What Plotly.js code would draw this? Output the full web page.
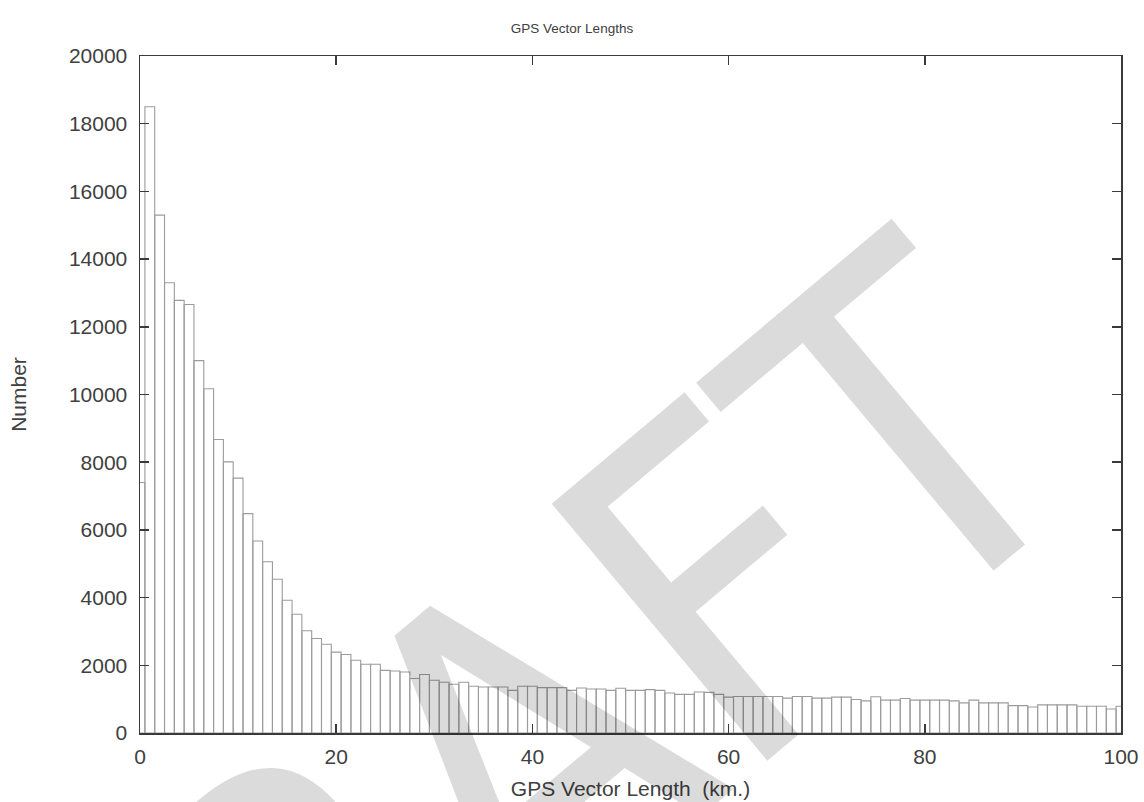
<!DOCTYPE html>
<html>
<head>
<meta charset="utf-8">
<script src="https://cdn.plot.ly/plotly-3.0.1.min.js"></script>
<style>
  html, body { margin: 0; padding: 0; background: #fff; }
  #chart { width: 1144px; height: 802px; }
</style>
</head>
<body>
<div id="chart"></div>
<script>
// Histogram bin centres (km) and counts
const binCenters = Array.from({length: 101}, (_, i) => i);
const counts = [
  7400, 18500, 15300, 13300, 12780, 12660, 11000, 10170, 8670, 8010,
  7530, 6480, 5670, 5060, 4540, 3920, 3510, 3020, 2790, 2620,
  2390, 2320, 2150, 2030, 2030, 1850, 1830, 1800, 1610, 1730,
  1560, 1500, 1440, 1500, 1380, 1360, 1360, 1360, 1260, 1380,
  1380, 1340, 1340, 1340, 1260, 1330, 1300, 1300, 1260, 1320,
  1260, 1260, 1280, 1260, 1180, 1140, 1140, 1210, 1200, 1140,
  1060, 1080, 1080, 1080, 1080, 1080, 1030, 1080, 1080, 1030,
  1030, 1060, 1060, 990, 950, 1070, 970, 970, 1020, 970,
  970, 970, 970, 950, 890, 970, 890, 890, 890, 810,
  810, 770, 830, 830, 830, 830, 790, 790, 790, 710,
  790
];
const xTicks = [0, 20, 40, 60, 80, 100];
const yTicks = [0, 2000, 4000, 6000, 8000, 10000, 12000, 14000, 16000, 18000, 20000];

const chartTitle = 'GPS Vector Lengths';
const xTitle = 'GPS Vector Length  (km.)';
const yTitle = 'Number';
const watermark = 'DRAFT';

const textColor = '#404040';
const axisColor = '#3a3a3a';

const trace = {
  type: 'bar',
  x: binCenters,
  y: counts,
  width: 1,
  marker: {
    color: 'rgba(255,255,255,0)',
    line: { color: '#9c9c9c', width: 1.1 }
  },
  hoverinfo: 'x+y'
};

const axisCommon = {
  showgrid: false,
  zeroline: false,
  showline: true,
  linecolor: axisColor,
  linewidth: 1.5,
  mirror: 'ticks',
  ticks: 'inside',
  ticklen: 9,
  tickwidth: 1.5,
  tickcolor: axisColor,
  tickfont: { family: 'Liberation Sans, Arial, sans-serif', size: 21, color: textColor }
};

const layout = {
  width: 1144,
  height: 802,
  margin: { l: 140, r: 23, t: 56, b: 69 },
  paper_bgcolor: '#ffffff',
  plot_bgcolor: '#ffffff',
  showlegend: false,
  bargap: 0,
  title: {
    text: chartTitle,
    font: { family: 'Liberation Sans, Arial, sans-serif', size: 13.5, color: textColor },
    x: 0.5, xanchor: 'center',
    y: 1 - 28 / 802, yanchor: 'middle', yref: 'container'
  },
  xaxis: Object.assign({}, axisCommon, {
    range: [0, 100],
    tickvals: xTicks,
    ticktext: xTicks.map(String),
    ticklabelstandoff: 4,
    title: {
      text: xTitle,
      font: { family: 'Liberation Sans, Arial, sans-serif', size: 21, color: textColor },
      standoff: 14
    }
  }),
  yaxis: Object.assign({}, axisCommon, {
    range: [0, 20000],
    tickvals: yTicks,
    ticktext: yTicks.map(String),
    ticklabelstandoff: 7,
    title: {
      text: yTitle,
      font: { family: 'Liberation Sans, Arial, sans-serif', size: 21, color: textColor },
      standoff: 36
    }
  }),
  annotations: [{
    text: watermark,
    xref: 'paper', yref: 'paper',
    x: 0.354, y: -0.081,
    xanchor: 'center', yanchor: 'middle',
    showarrow: false,
    textangle: -40,
    font: { family: 'Liberation Sans Narrow, DejaVu Sans Condensed, Liberation Sans, sans-serif', size: 460, color: 'rgba(0,0,0,0.14)' }
  }]
};

Plotly.newPlot('chart', [trace], layout, { staticPlot: true, displayModeBar: false });
</script>
</body>
</html>
